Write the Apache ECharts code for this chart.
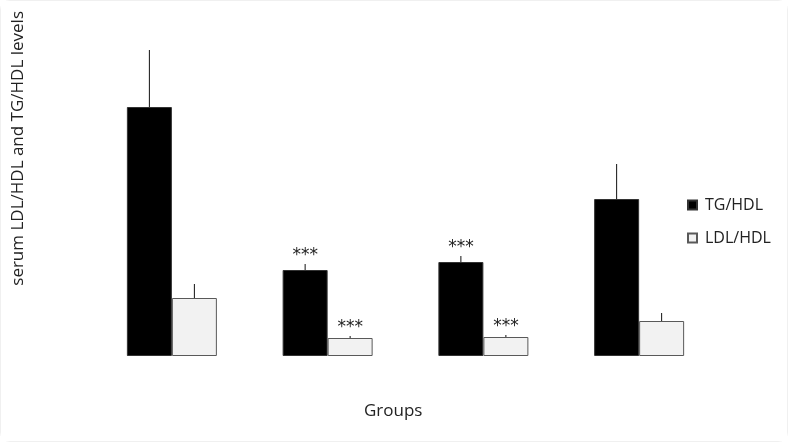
<!DOCTYPE html>
<html>
<head>
<meta charset="utf-8">
<script src="https://cdn.jsdelivr.net/npm/echarts@6/dist/echarts.min.js"></script>
<style>
  html, body { margin: 0; padding: 0; background: #fff; }
  #chart { width: 788px; height: 442px; box-sizing: border-box; border: 1px solid #f0f0f0; border-radius: 10px; }
</style>
</head>
<body>
<div id="chart"></div>
<script>
// groups have no visible names in the source figure
var groups = ['G1', 'G2', 'G3', 'G4'];
var tgHdl = [2.49, 0.86, 0.94, 1.57];
var tgHdlErr = [0.57, 0.06, 0.06, 0.35];
var ldlHdl = [0.58, 0.18, 0.19, 0.35];
var ldlHdlErr = [0.14, 0.02, 0.02, 0.08];
var tgSig = ['', '***', '***', ''];
var ldlSig = ['', '***', '***', ''];

var chart = echarts.init(document.getElementById('chart'));
var font = '"Open Sans", sans-serif';
var barW = 45;

function errSeries(name, vals, errs, sig, shift) {
    return {
        name: name + ' err',
        type: 'custom',
        z: 5,
        data: vals.map(function (v, i) { return [i, v, v + errs[i]]; }),
        renderItem: function (params, api) {
            var i = api.value(0);
            var lo = api.coord([i, api.value(1)]);
            var hi = api.coord([i, api.value(2)]);
            var x = lo[0] + shift;
            var kids = [{
                type: 'line',
                shape: { x1: x, y1: lo[1], x2: x, y2: hi[1] },
                style: { stroke: '#111', lineWidth: 1 }
            }];
            if (sig[i]) {
                kids.push({
                    type: 'text',
                    style: {
                        text: sig[i], x: x, y: hi[1],
                        align: 'center', verticalAlign: 'bottom',
                        fill: '#222', font: '17px "DejaVu Sans", sans-serif'
                    }
                });
            }
            return { type: 'group', children: kids };
        }
    };
}

var option = {
    backgroundColor: '#fff',
    animation: false,
    grid: { left: 93, right: 70, top: 35, bottom: 85 },
    legend: {
        orient: 'vertical',
        left: 681,
        top: 191,
        icon: 'rect',
        itemWidth: 9,
        itemHeight: 9,
        itemGap: 17,
        data: ['TG/HDL', 'LDL/HDL'],
        textStyle: { fontFamily: font, fontSize: 16, color: '#222', padding: [0, 0, 0, 3] }
    },
    xAxis: {
        type: 'category',
        data: groups,
        axisLine: { show: false },
        axisTick: { show: false },
        axisLabel: { show: false }
    },
    yAxis: {
        type: 'value',
        min: 0,
        max: 3.2,
        show: false
    },
    graphic: [
        {
            type: 'text',
            left: 9,
            top: 10,
            rotation: Math.PI / 2,
            style: {
                text: 'serum LDL/HDL and TG/HDL levels',
                font: '17px "Open Sans", sans-serif',
                fill: '#222'
            }
        },
        {
            type: 'text',
            left: 363,
            top: 402,
            style: { text: 'Groups', font: '17px "Open Sans", sans-serif', fill: '#222' }
        }
    ],
    series: [
        {
            name: 'TG/HDL',
            type: 'bar',
            data: tgHdl,
            barWidth: barW,
            barGap: 0,
            itemStyle: { color: '#000', borderColor: '#333', borderWidth: 1 }
        },
        {
            name: 'LDL/HDL',
            type: 'bar',
            data: ldlHdl,
            barWidth: barW,
            itemStyle: { color: '#f2f2f2', borderColor: '#595959', borderWidth: 1 }
        },
        errSeries('TG/HDL', tgHdl, tgHdlErr, tgSig, -barW / 2),
        errSeries('LDL/HDL', ldlHdl, ldlHdlErr, ldlSig, barW / 2)
    ]
};
chart.setOption(option);
</script>
</body>
</html>
